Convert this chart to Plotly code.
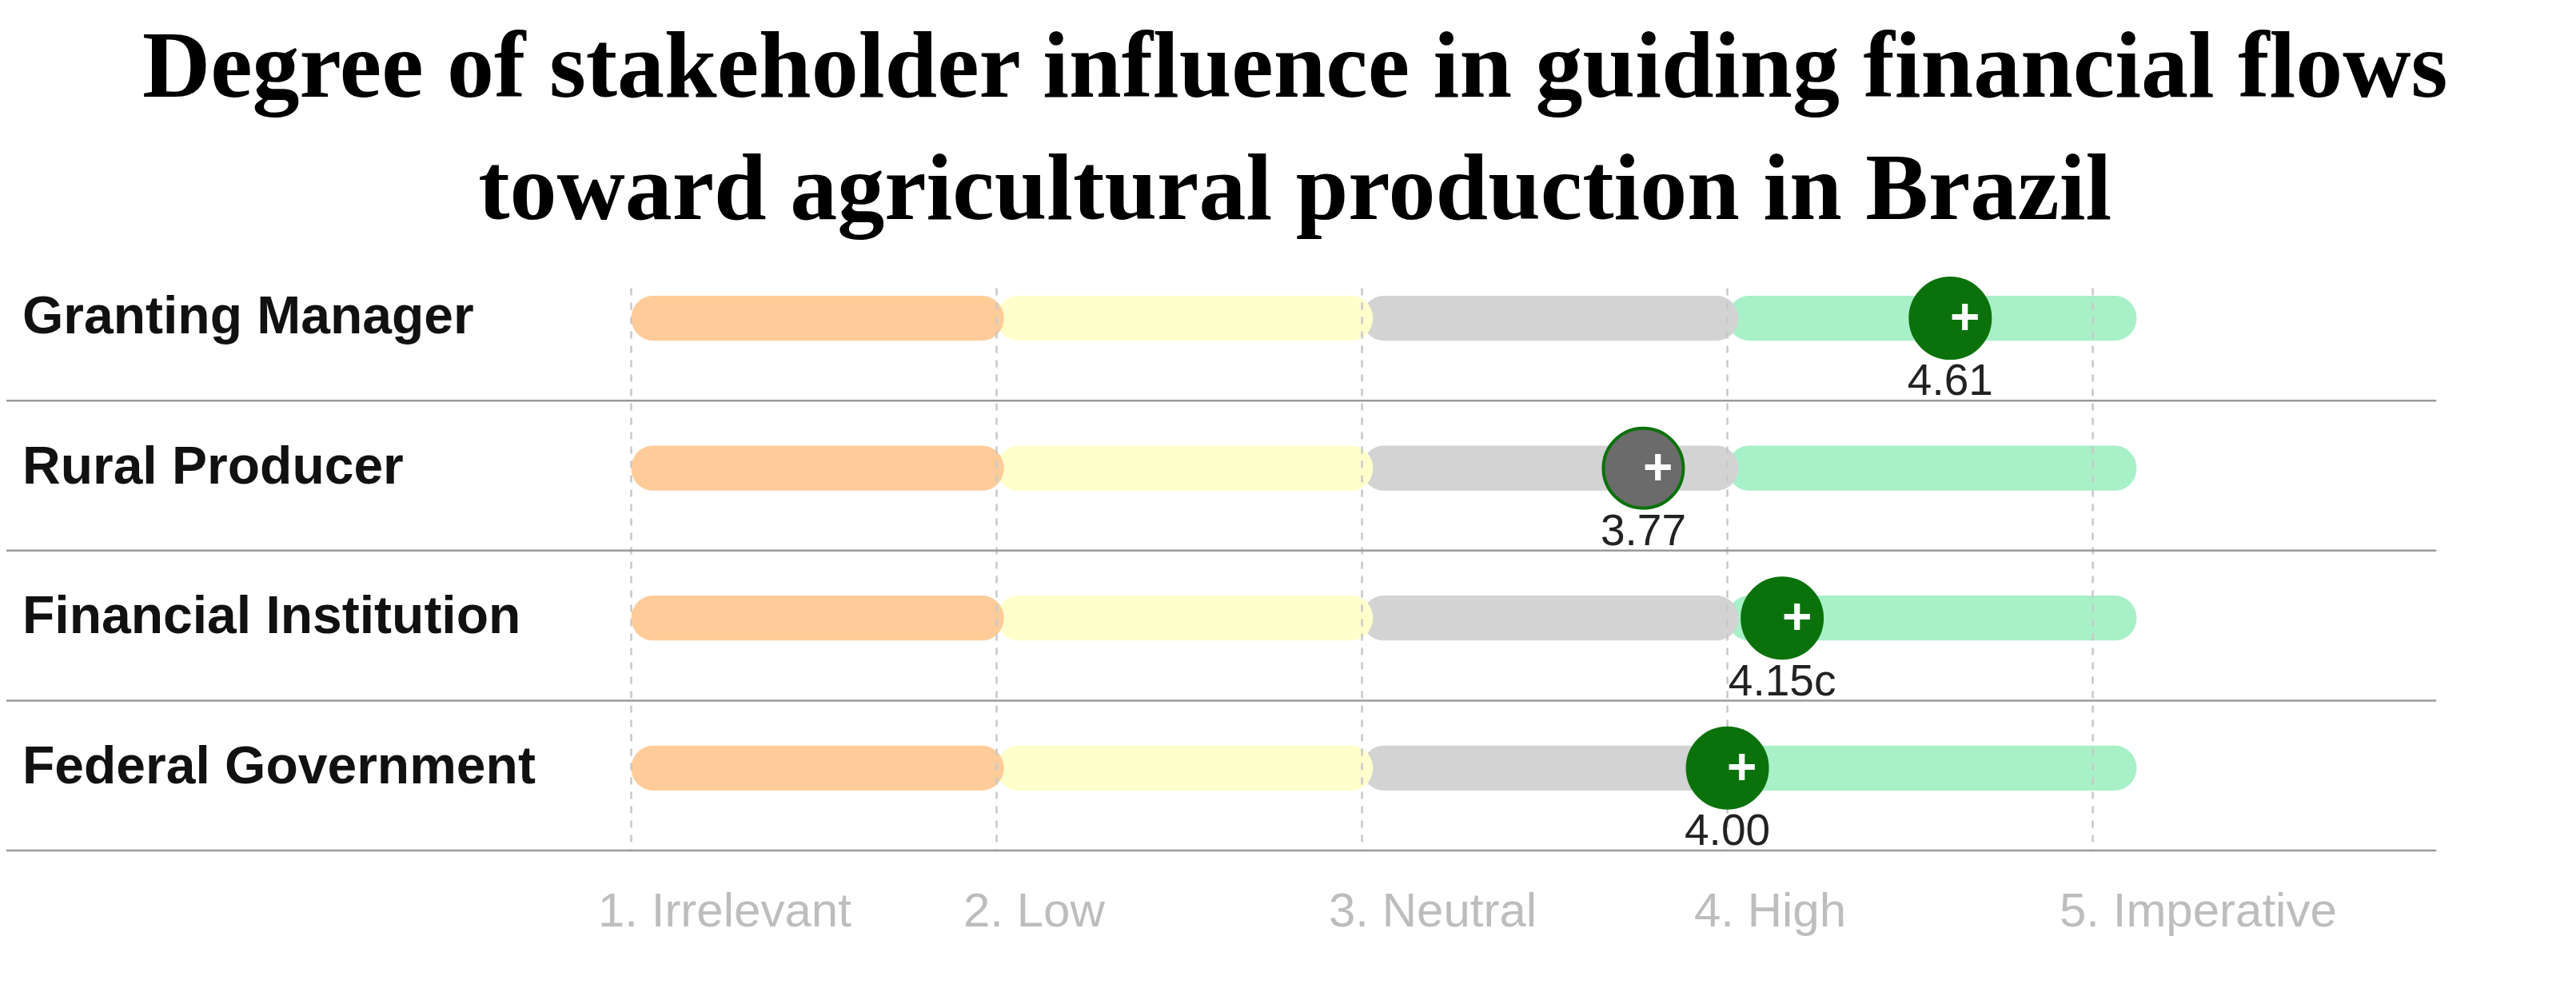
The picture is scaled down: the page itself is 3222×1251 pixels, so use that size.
import plotly.graph_objects as go

# data
stakeholders = ["Granting Manager", "Rural Producer", "Financial Institution", "Federal Government"]
scores = [4.61, 3.77, 4.15, 4.00]
score_labels = ["4.61", "3.77", "4.15c", "4.00"]
scale_ticks = [1, 2, 3, 4, 5]
scale_labels = ["1. Irrelevant", "2. Low", "3. Neutral", "4. High", "5. Imperative"]
band_edges = [(4.0, 5.12), (3.0, 4.03), (2.0, 3.03), (1.0, 2.02)]
band_colors = ["#A8F0C8", "#D3D3D3", "#FFFFCC", "#FFCC99"]
marker_fill = ["#0B720B", "#6B6B6B", "#0B720B", "#0B720B"]

H = 0.15   # half bar height (row units)
RX = 0.06  # cap radius (x units)
C = 0.552


def capsule(a, b, y):
    return (f"M {a+RX},{y-H} L {b-RX},{y-H} "
            f"C {b-RX+C*RX},{y-H} {b},{y-C*H} {b},{y} "
            f"C {b},{y+C*H} {b-RX+C*RX},{y+H} {b-RX},{y+H} "
            f"L {a+RX},{y+H} "
            f"C {a+RX-C*RX},{y+H} {a},{y+C*H} {a},{y} "
            f"C {a},{y-C*H} {a+RX-C*RX},{y-H} {a+RX},{y-H} Z")


fig = go.Figure()
shapes = []
rows = list(range(len(stakeholders)))

for r in rows:
    for (a, b), col in zip(band_edges, band_colors):
        shapes.append(dict(type="path", path=capsule(a, b, r), fillcolor=col,
                           line=dict(width=0), layer="below"))
    shapes.append(dict(type="line", x0=-0.72, x1=5.94, y0=r + 0.55, y1=r + 0.55,
                       line=dict(color="#9a9a9a", width=2.5)))

for t in scale_ticks:
    shapes.append(dict(type="line", x0=t, x1=t, y0=-0.2, y1=len(rows) - 0.45,
                       line=dict(color="#c8c8c8", width=2.5, dash="dash"), layer="below"))

fig.add_trace(go.Scatter(
    x=scores, y=rows, mode="markers",
    marker=dict(size=100, color=marker_fill, line=dict(color="#0B720B", width=4)),
    hoverinfo="skip"))
fig.add_trace(go.Scatter(
    x=scores, y=[r + 0.44 for r in rows], mode="text", text=score_labels,
    textfont=dict(color="#222", size=55, family="Arial"), hoverinfo="skip"))

for r, s in zip(rows, scores):
    fig.add_annotation(x=s, y=r, text="<b>+</b>", showarrow=False, xshift=18, yshift=2,
                       font=dict(size=64, family="Arial", color="white"))

for r, name in zip(rows, stakeholders):
    fig.add_annotation(x=-0.67, y=r - 0.02, text=f"<b>{name}</b>", showarrow=False,
                       xanchor="left", font=dict(size=66, family="Arial", color="#111"))
for t, lab in zip(scale_ticks, scale_labels):
    fig.add_annotation(x=t, y=len(rows) - 0.05, text=lab, showarrow=False, xanchor="left",
                       xshift=-44, font=dict(size=60, family="Arial", color="#bdbdbd"))

fig.add_annotation(xref="paper", yref="paper", x=0.5, y=0.995, yanchor="top",
                   text="<b>Degree of stakeholder influence in guiding financial flows<br>"
                        "toward agricultural production in Brazil</b>",
                   showarrow=False, font=dict(size=118, family="Liberation Serif", color="#000"))

fig.update_layout(
    width=3222, height=1251, margin=dict(l=0, r=0, t=0, b=0),
    paper_bgcolor="white", plot_bgcolor="white", showlegend=False, shapes=shapes,
    xaxis=dict(range=[-0.71, 6.34], visible=False, fixedrange=True),
    yaxis=dict(range=[4.59, -2.08], visible=False, fixedrange=True),
)
fig.write_html("out.html")
